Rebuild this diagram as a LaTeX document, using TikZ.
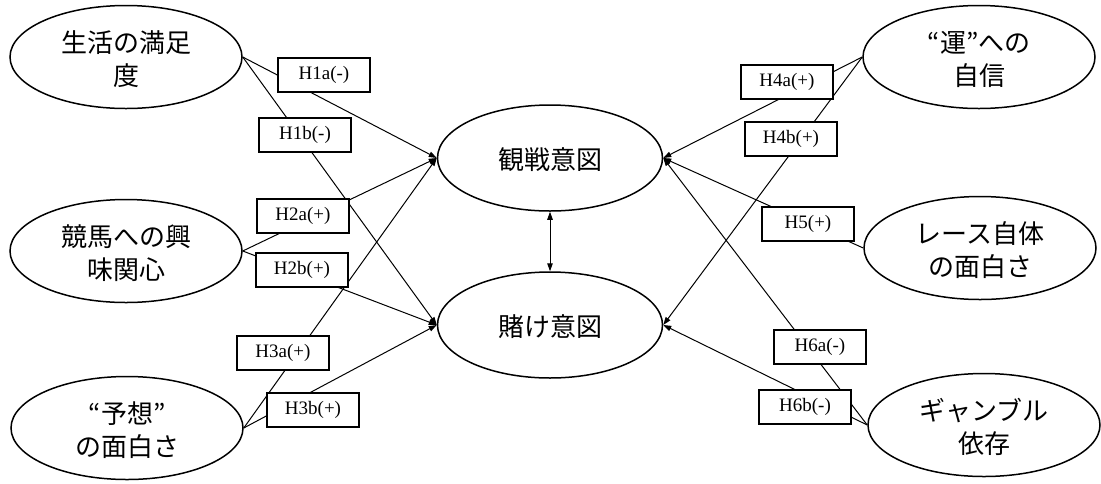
\documentclass[tikz,border=0pt]{standalone}
\usepackage{fontspec}
\setmainfont{Liberation Serif}
\newfontfamily\jp{Noto Sans CJK JP}
\usetikzlibrary{shapes.geometric,arrows.meta}

% construct names sit a little below the centre of their ellipse
\newcommand\cname[1]{\raisebox{-5pt}[\height][\depth]{\begin{tabular}{@{}c@{}}#1\end{tabular}}}

\begin{document}
\begin{tikzpicture}[x=1pt,y=-1pt,
  construct/.style={ellipse, draw, line width=1.5pt, minimum width=232pt,
    minimum height=103pt, inner sep=0pt,
    font=\jp\fontsize{26}{33}\selectfont},
  hyp/.style={draw, line width=1.5pt, fill=white, minimum width=92pt,
    minimum height=34pt, inner sep=0pt, font=\fontsize{19}{22}\selectfont},
  link/.style={line width=1pt, -{Triangle[length=8pt,width=5.5pt]}},
  both/.style={line width=1pt, {Triangle[length=8pt,width=5.5pt]}-{Triangle[length=8pt,width=5.5pt]}}]
\useasboundingbox (0,0) rectangle (1101,483);

% latent constructs
\node[construct] (life) at (126,57)  {\cname{生活の満足\\度}};
\node[construct] (int)  at (126,251) {\cname{競馬への興\\味関心}};
\node[construct] (pred) at (127,428) {\cname{“予想”\\の面白さ}};
\node[construct] (luck) at (979,57)  {\cname{“運”への\\自信}};
\node[construct] (race) at (980,248) {\cname{レース自体\\の面白さ}};
\node[construct] (gamb) at (984,425) {\cname{ギャンブル\\依存}};
\node[construct, minimum width=225pt, minimum height=106pt] (watch) at (550,158) {\cname{観戦意図}};
\node[construct, minimum width=225pt, minimum height=106pt] (bet)   at (550,325) {\cname{賭け意図}};

% hypothesised paths
\draw[link] (life.east) -- (watch.west);
\draw[link] (life.east) -- (bet.west);
\draw[link] (int.east)  -- (watch.west);
\draw[link] (int.east)  -- (bet.west);
\draw[link] (pred.east) -- (watch.west);
\draw[link] (pred.east) -- (bet.west);
\draw[link] (luck.west) -- (watch.east);
\draw[link] (luck.west) -- (bet.east);
\draw[link] (race.west) -- (watch.east);
\draw[link] (gamb.west) -- (watch.east);
\draw[link] (gamb.west) -- (bet.east);
\draw[both] (watch.south) -- (bet.north);

% hypothesis labels
\node[hyp] (h1a) at (324,75)  {H1a(-)};
\node[hyp] (h1b) at (305,135) {H1b(-)};
\node[hyp] (h2a) at (303,216) {H2a(+)};
\node[hyp] (h2b) at (302,270) {H2b(+)};
\node[hyp] (h3a) at (283,353) {H3a(+)};
\node[hyp] (h3b) at (313,410) {H3b(+)};
\node[hyp] (h4a) at (787,82)  {H4a(+)};
\node[hyp] (h4b) at (791,139) {H4b(+)};
\node[hyp] (h5)  at (808,224) {H5(+)};
\node[hyp] (h6a) at (820,347) {H6a(-)};
\node[hyp] (h6b) at (805,407) {H6b(-)};
\end{tikzpicture}
\end{document}
